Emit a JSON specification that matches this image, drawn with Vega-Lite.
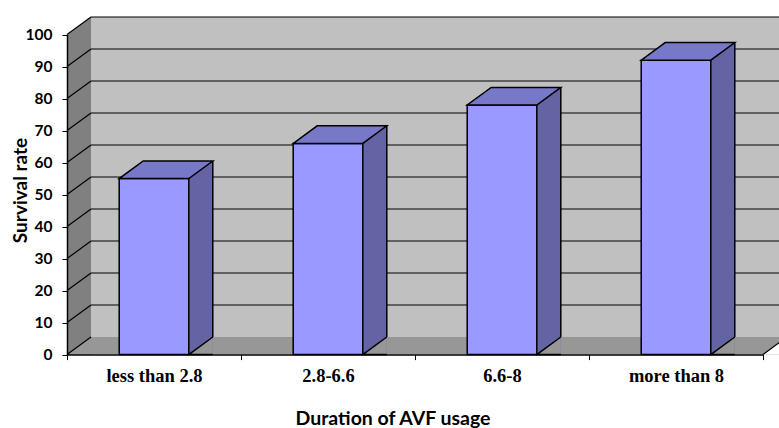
{
  "$schema": "https://vega.github.io/schema/vega-lite/v6.json",
  "width": 688,
  "height": 320,
  "autosize": {"type": "none"},
  "padding": {"left": 91, "top": 17, "right": 0, "bottom": 91},
  "background": "white",
  "view": {"fill": "#c0c0c0", "stroke": null},
  "config": {"font": "Lato", "axis": {"grid": false}},
  "resolve": {"axis": {"x": "independent", "y": "independent"}},
  "datasets": {
    "survival": [
      {"duration": "less than 2.8", "rate": 55},
      {"duration": "2.8-6.6", "rate": 66},
      {"duration": "6.6-8", "rate": 78},
      {"duration": "more than 8", "rate": 92}
    ],
    "levels": [
      {"level": 0}, {"level": 10}, {"level": 20}, {"level": 30}, {"level": 40}, {"level": 50},
      {"level": 60}, {"level": 70}, {"level": 80}, {"level": 90}, {"level": 100}
    ]
  },
  "layer": [
    {
      "data": {"name": "levels"},
      "transform": [{"filter": "datum.level > 0"}],
      "mark": {"type": "rule", "color": "#000000", "strokeWidth": 1.2, "yOffset": -17.6},
      "encoding": {
        "y": {"field": "level", "type": "quantitative", "axis": null,
              "scale": {"type": "linear", "domain": [0, 100], "range": [337.6, 17.6], "nice": false, "zero": false}}
      }
    },
    {
      "data": {"values": [{}]},
      "mark": {"type": "rule", "color": "#979797", "strokeWidth": 17.6, "strokeCap": "butt", "yOffset": -8.8},
      "encoding": {
        "y": {"datum": 0, "type": "quantitative", "axis": null,
              "scale": {"type": "linear", "domain": [0, 100], "range": [337.6, 17.6], "nice": false, "zero": false}}
      }
    },
    {
      "data": {"values": [{}]},
      "mark": {"type": "rule", "color": "#808080", "strokeWidth": 24, "strokeCap": "butt", "xOffset": 12, "yOffset": -17.6},
      "encoding": {
        "x": {"datum": "less than 2.8", "type": "nominal", "bandPosition": 0, "axis": null,
              "scale": {"type": "band", "domain": ["less than 2.8", "2.8-6.6", "6.6-8", "more than 8"], "range": [-24, 672], "paddingInner": 0, "paddingOuter": 0}},
        "y": {"datum": 100, "type": "quantitative", "axis": null,
              "scale": {"type": "linear", "domain": [0, 100], "range": [337.6, 17.6], "nice": false, "zero": false}},
        "y2": {"datum": 0}
      }
    },
    {
      "data": {"values": [{}]},
      "mark": {"type": "point", "shape": "M0,0L0,-17.6L24,-17.6Z", "size": 4, "filled": true, "fill": "#ffffff", "strokeWidth": 0, "opacity": 1},
      "encoding": {
        "x": {"datum": "less than 2.8", "type": "nominal", "bandPosition": 0, "axis": null,
              "scale": {"type": "band", "domain": ["less than 2.8", "2.8-6.6", "6.6-8", "more than 8"], "range": [-24, 672], "paddingInner": 0, "paddingOuter": 0}},
        "y": {"datum": 100, "type": "quantitative", "axis": null,
              "scale": {"type": "linear", "domain": [0, 100], "range": [337.6, 17.6], "nice": false, "zero": false}}
      }
    },
    {
      "data": {"values": [{}]},
      "mark": {"type": "point", "shape": "M24,0L0,0L24,-17.6", "size": 4, "filled": true, "fill": "#979797", "strokeWidth": 0, "opacity": 1},
      "encoding": {
        "x": {"datum": "less than 2.8", "type": "nominal", "bandPosition": 0, "axis": null,
              "scale": {"type": "band", "domain": ["less than 2.8", "2.8-6.6", "6.6-8", "more than 8"], "range": [-24, 672], "paddingInner": 0, "paddingOuter": 0}},
        "y": {"datum": 0, "type": "quantitative", "axis": null,
              "scale": {"type": "linear", "domain": [0, 100], "range": [337.6, 17.6], "nice": false, "zero": false}}
      }
    },
    {
      "data": {"values": [{}]},
      "mark": {"type": "point", "shape": "M24,0L24,-17.6L0,0", "size": 4, "filled": true, "fill": "#ffffff", "stroke": "#000000", "strokeWidth": 1.2, "opacity": 1},
      "encoding": {
        "x": {"datum": "more than 8", "type": "nominal", "bandPosition": 1, "axis": null,
              "scale": {"type": "band", "domain": ["less than 2.8", "2.8-6.6", "6.6-8", "more than 8"], "range": [-24, 672], "paddingInner": 0, "paddingOuter": 0}},
        "y": {"datum": 0, "type": "quantitative", "axis": null,
              "scale": {"type": "linear", "domain": [0, 100], "range": [337.6, 17.6], "nice": false, "zero": false}}
      }
    },
    {
      "data": {"name": "levels"},
      "mark": {"type": "point", "shape": "M0,0L24,-17.6", "size": 4, "filled": false, "stroke": "#000000", "strokeWidth": 1.2, "opacity": 1},
      "encoding": {
        "x": {"datum": "less than 2.8", "type": "nominal", "bandPosition": 0, "axis": null,
              "scale": {"type": "band", "domain": ["less than 2.8", "2.8-6.6", "6.6-8", "more than 8"], "range": [-24, 672], "paddingInner": 0, "paddingOuter": 0}},
        "y": {"field": "level", "type": "quantitative", "axis": null,
              "scale": {"type": "linear", "domain": [0, 100], "range": [337.6, 17.6], "nice": false, "zero": false}}
      }
    },
    {
      "data": {"name": "survival"},
      "mark": {"type": "rule", "color": "#6464a4", "strokeWidth": 24, "strokeCap": "butt", "xOffset": 12, "yOffset": -17.6},
      "encoding": {
        "x": {"field": "duration", "type": "nominal", "sort": null, "bandPosition": 0.7, "axis": null,
              "scale": {"type": "band", "domain": ["less than 2.8", "2.8-6.6", "6.6-8", "more than 8"], "range": [-24, 672], "paddingInner": 0, "paddingOuter": 0}},
        "y": {"field": "rate", "type": "quantitative", "axis": null,
              "scale": {"type": "linear", "domain": [0, 100], "range": [337.6, 17.6], "nice": false, "zero": false}},
        "y2": {"datum": 0}
      }
    },
    {
      "data": {"name": "survival"},
      "mark": {"type": "point", "shape": "M24,0L0,0L24,-17.6", "size": 4, "filled": true, "fill": "#979797", "stroke": "#000000", "strokeWidth": 1.5, "opacity": 1},
      "encoding": {
        "x": {"field": "duration", "type": "nominal", "sort": null, "bandPosition": 0.7, "axis": null,
              "scale": {"type": "band", "domain": ["less than 2.8", "2.8-6.6", "6.6-8", "more than 8"], "range": [-24, 672], "paddingInner": 0, "paddingOuter": 0}},
        "y": {"datum": 0, "type": "quantitative", "axis": null,
              "scale": {"type": "linear", "domain": [0, 100], "range": [337.6, 17.6], "nice": false, "zero": false}}
      }
    },
    {
      "data": {"name": "survival"},
      "mark": {"type": "rule", "color": "#000000", "strokeWidth": 1.5, "xOffset": 24, "yOffset": -17.6, "y2Offset": -17.6},
      "encoding": {
        "x": {"field": "duration", "type": "nominal", "sort": null, "bandPosition": 0.7, "axis": null,
              "scale": {"type": "band", "domain": ["less than 2.8", "2.8-6.6", "6.6-8", "more than 8"], "range": [-24, 672], "paddingInner": 0, "paddingOuter": 0}},
        "y": {"field": "rate", "type": "quantitative", "axis": null,
              "scale": {"type": "linear", "domain": [0, 100], "range": [337.6, 17.6], "nice": false, "zero": false}},
        "y2": {"datum": 0}
      }
    },
    {
      "data": {"name": "survival"},
      "mark": {"type": "bar", "fill": "#9999ff", "stroke": "#000000", "strokeWidth": 1.5, "width": {"band": 0.4}},
      "encoding": {
        "x": {"field": "duration", "type": "nominal", "sort": null,
              "scale": {"type": "band", "domain": ["less than 2.8", "2.8-6.6", "6.6-8", "more than 8"], "range": [-24, 672], "paddingInner": 0, "paddingOuter": 0},
              "axis": {"title": "Duration of AVF usage", "orient": "bottom", "offset": 17.6, "zindex": 1,
                       "domainColor": "#000000", "domainWidth": 1.5, "tickColor": "#000000", "tickWidth": 1, "tickSize": 5, "tickBand": "extent",
                       "labelAngle": 0, "labelFont": "Liberation Serif", "labelFontSize": 18.5, "labelFontWeight": "bold", "labelColor": "#000000",
                       "labelPadding": 22, "labelBaseline": "alphabetic",
                       "titleFont": "Lato", "titleFontSize": 19.5, "titleFontWeight": "bold", "titleColor": "#000000",
                       "titleX": 301.5, "titleY": 69.4, "titleAlign": "center", "titleBaseline": "alphabetic"}},
        "y": {"field": "rate", "type": "quantitative",
              "scale": {"type": "linear", "domain": [0, 100], "range": [337.6, 17.6], "nice": false, "zero": false},
              "axis": {"title": "Survival rate", "orient": "left", "offset": 24, "zindex": 1,
                       "values": [0, 10, 20, 30, 40, 50, 60, 70, 80, 90, 100],
                       "domainColor": "#000000", "domainWidth": 1.5, "tickColor": "#000000", "tickWidth": 1, "tickSize": 5,
                       "labelFont": "Lato", "labelFontSize": 15.5, "labelFontWeight": "bold", "labelColor": "#000000", "labelPadding": 10,
                       "titleFont": "Lato", "titleFontSize": 19, "titleFontWeight": "bold", "titleColor": "#000000",
                       "titleX": -47, "titleY": 173, "titleAngle": -90, "titleAlign": "center", "titleBaseline": "middle"}}
      }
    },
    {
      "data": {"name": "survival"},
      "mark": {"type": "point", "shape": "M0,0L69.6,0L93.6,-17.6L24,-17.6Z", "size": 4, "filled": true, "fill": "#7878c8", "stroke": "#000000", "strokeWidth": 1.5, "opacity": 1},
      "encoding": {
        "x": {"field": "duration", "type": "nominal", "sort": null, "bandPosition": 0.3, "axis": null,
              "scale": {"type": "band", "domain": ["less than 2.8", "2.8-6.6", "6.6-8", "more than 8"], "range": [-24, 672], "paddingInner": 0, "paddingOuter": 0}},
        "y": {"field": "rate", "type": "quantitative", "axis": null,
              "scale": {"type": "linear", "domain": [0, 100], "range": [337.6, 17.6], "nice": false, "zero": false}}
      }
    }
  ]
}
